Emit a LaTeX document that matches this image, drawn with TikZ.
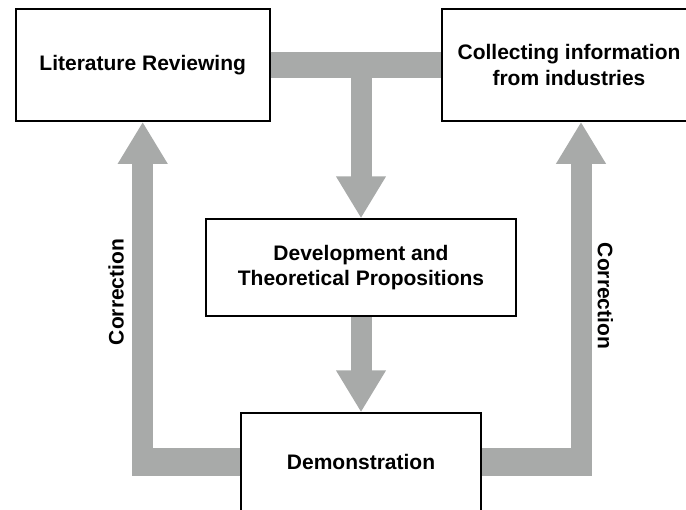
\documentclass[tikz,border=0pt]{standalone}
\usepackage{fontspec}
\setmainfont{Liberation Sans}
\usetikzlibrary{arrows.meta}
\definecolor{flowgray}{RGB}{168,170,169}

\begin{document}
\begin{tikzpicture}[x=1pt,y=-1pt,
  stagebox/.style={draw,line width=2pt,fill=white,align=center,
    font=\bfseries\fontsize{21}{25.5}\selectfont},
  flowbar/.style={draw=flowgray,line width=#1},
  bigarrow/.style={draw=flowgray,line width=21pt,
    -{Triangle[width=47pt,length=42pt,fill=flowgray]}},
  corrlabel/.style={font=\bfseries\fontsize{21}{25}\selectfont}]

  \useasboundingbox (0,0) rectangle (686,510);

  %stages
  \node[stagebox,minimum width=254pt,minimum height=112pt] (lit) at (142.7,64.9) {Literature Reviewing};
  \node[stagebox,minimum width=254pt,minimum height=112pt] (coll) at (569,64.9) {Collecting information\\from industries};
  \node[stagebox,minimum width=310pt,minimum height=97pt] (dev) at (361,267.8) {Development and\\Theoretical Propositions};
  \node[stagebox,minimum width=240pt,minimum height=97.4pt] (demo) at (361,462) {Demonstration};

  %main flow
  \draw[flowbar=26pt] (lit) -- (coll);
  \draw[bigarrow] (dev.north |- lit.east) -- (dev);
  \draw[bigarrow] (dev) -- (demo);

  %correction loops
  \coordinate (ltop) at (lit.south);
  \coordinate (lcorner) at (ltop |- demo.west);
  \coordinate (rtop) at ([xshift=12pt]coll.south);
  \coordinate (rcorner) at (rtop |- demo.east);
  \draw[flowbar=28pt] (demo.west) -- ([xshift=-10.5pt]lcorner);
  \draw[bigarrow] ([yshift=-14pt]lcorner) -- (ltop);
  \draw[flowbar=28pt] (demo.east) -- ([xshift=10.5pt]rcorner);
  \draw[bigarrow] ([yshift=-14pt]rcorner) -- (rtop);

  %labels
  \node[corrlabel,rotate=90] (corrleft) at (116,292) {Correction};
  \node[corrlabel,rotate=-90] (corrright) at (605.5,296) {Correction};

\end{tikzpicture}
\end{document}
